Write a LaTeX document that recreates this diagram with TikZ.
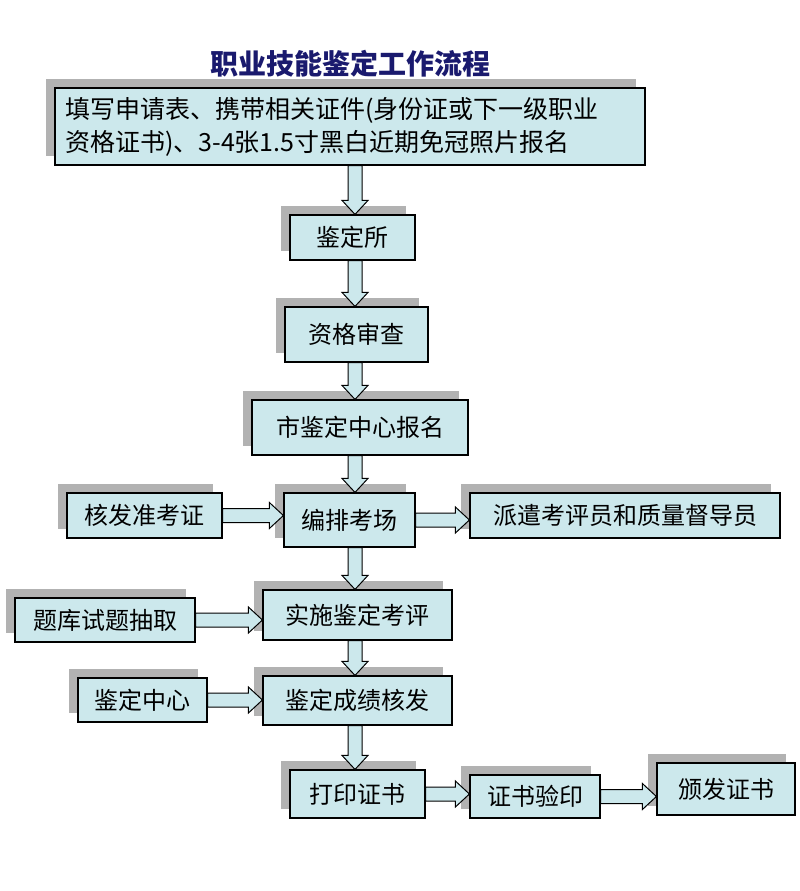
\documentclass[tikz,border=0pt]{standalone}
\usepackage{fontspec}
\setmainfont{Noto Sans CJK SC}
\usetikzlibrary{shadows,calc}
\definecolor{boxblue}{RGB}{204,232,236}
\definecolor{navy}{RGB}{26,26,110}
\begin{document}
\begin{tikzpicture}[x=1pt,y=-1pt,
  box/.style={draw=black,line width=1.2pt,fill=boxblue,inner sep=0pt,
    font=\fontsize{24}{30}\selectfont,
    drop shadow={shadow xshift=-9pt,shadow yshift=9pt,fill=black!30,opacity=1}},
  barrow/.style={draw=black,line width=1pt,fill=boxblue}]
\useasboundingbox (0,0) rectangle (800,891);
\fill[white] (0,0) rectangle (800,891);
\node[font=\fontsize{28}{32}\selectfont\bfseries,text=navy] (title) at (350,64) {职业技能鉴定工作流程};
\node[box,minimum width=590,minimum height=77,text width=570,align=left,font=\fontsize{25}{33}\selectfont] (b1) at (350,126.5)
  {填写申请表、携带相关证件(身份证或下一级职业\\资格证书)、3-4张1.5寸黑白近期免冠照片报名};
\node[box,minimum width=125,minimum height=45] (jds) at (352.5,237.5) {鉴定所};
\node[box,minimum width=143,minimum height=55] (zgsc) at (356.5,334.5) {资格审查};
\node[box,minimum width=216,minimum height=55] (sjd) at (360,427.5) {市鉴定中心报名};
\node[box,minimum width=131,minimum height=54] (bp) at (349.5,520) {编排考场};
\node[box,minimum width=155,minimum height=45] (hf) at (144.5,515.5) {核发准考证};
\node[box,minimum width=310,minimum height=45] (pq) at (625,515.5) {派遣考评员和质量督导员};
\node[box,minimum width=180,minimum height=44] (tk) at (105,620) {题库试题抽取};
\node[box,minimum width=189,minimum height=50] (ss) at (357.5,615) {实施鉴定考评};
\node[box,minimum width=129,minimum height=44] (jdzx) at (142.5,700) {鉴定中心};
\node[box,minimum width=189,minimum height=49] (jdcj) at (357.5,700.5) {鉴定成绩核发};
\node[box,minimum width=135,minimum height=48] (dy) at (357.5,794) {打印证书};
\node[box,minimum width=130,minimum height=43] (zs) at (535,796.5) {证书验印};
\node[box,minimum width=138,minimum height=52] (bf) at (726,789) {颁发证书};
\newcommand\vba[2]{\draw[barrow] let \p1=(#1.south), \p2=(#2.north) in
  (355pt-7pt,\y1) -- (355pt-7pt,\y2+14pt) -- (355pt-13pt,\y2+14pt) -- (355pt,\y2)
  -- (355pt+13pt,\y2+14pt) -- (355pt+7pt,\y2+14pt) -- (355pt+7pt,\y1) -- cycle;}
\newcommand\hba[2]{\draw[barrow] let \p1=(#1.east), \p2=(#2.west) in
  (\x1,\y1-7pt) -- (\x2-14pt,\y1-7pt) -- (\x2-14pt,\y1-13pt) -- (\x2,\y1)
  -- (\x2-14pt,\y1+13pt) -- (\x2-14pt,\y1+7pt) -- (\x1,\y1+7pt) -- cycle;}
\vba{b1}{jds}\vba{jds}{zgsc}\vba{zgsc}{sjd}\vba{sjd}{bp}\vba{bp}{ss}\vba{ss}{jdcj}\vba{jdcj}{dy}
\hba{hf}{bp}\hba{bp}{pq}\hba{tk}{ss}\hba{jdzx}{jdcj}\hba{dy}{zs}\hba{zs}{bf}
\end{tikzpicture}
\end{document}
